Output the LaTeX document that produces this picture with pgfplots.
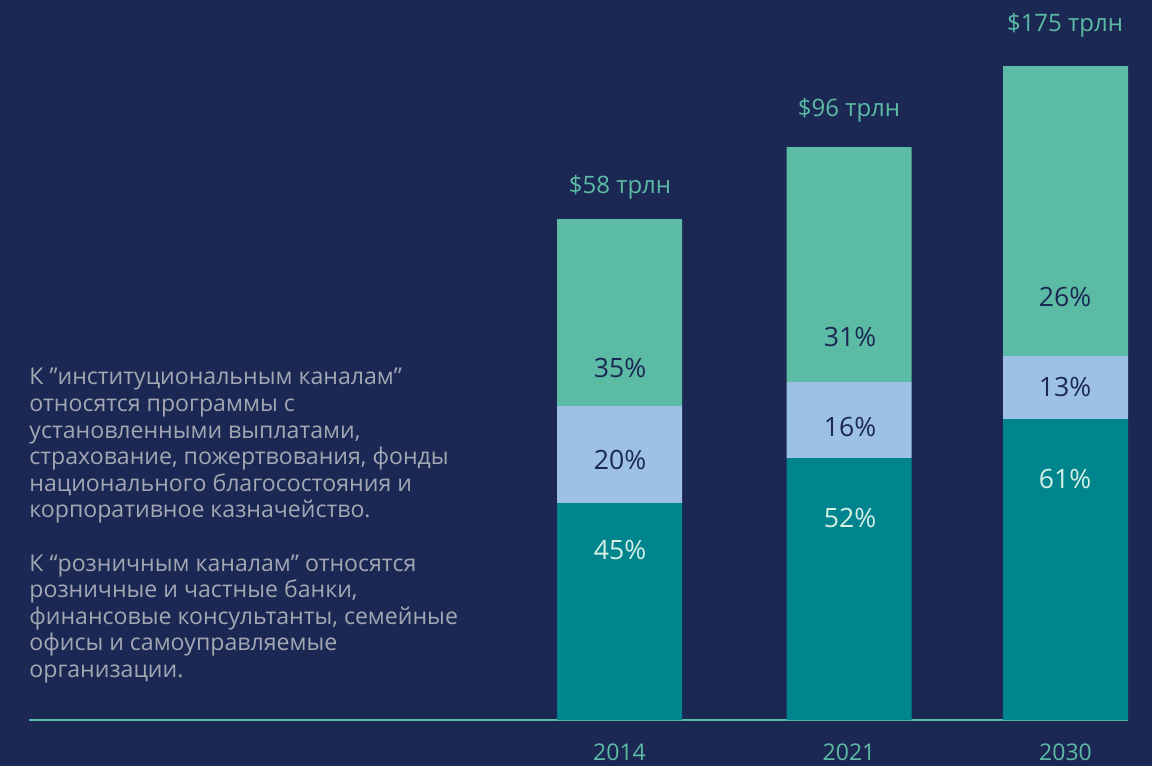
\documentclass[border=0pt]{standalone}
\usepackage{fontspec}
\setmainfont{Open Sans}
\usepackage{pgfplots}
\pgfplotsset{compat=1.18}

\definecolor{navy}{HTML}{1B2853}
\definecolor{tealbar}{HTML}{00858F}
\definecolor{skybar}{HTML}{9DC1E4}
\definecolor{mintbar}{HTML}{5CBBA5}
\definecolor{mintlbl}{HTML}{D6F0E4}
\definecolor{greytxt}{HTML}{A3A7B3}

\begin{document}
\begin{tikzpicture}
% 1 px of the reference = 0.5pt
\fill[navy] (0,0) rectangle (576pt,383pt);
\begin{axis}[
    at={(14.5pt,23pt)}, anchor=south west,
    x=0.5pt, y=0.5pt,
    xmin=29, xmax=1128, ymin=0, ymax=720,
    enlargelimits=false,
    clip=false,
    ybar stacked,
    bar width=125,
    axis x line=bottom,
    axis y line=none,
    axis line style={mintbar, line width=0.9pt, -},
    xtick={619.5,849,1065.5},
    xticklabels={2014,2021,2030},
    major tick length=0pt,
    xticklabel style={font=\fontsize{11.5}{12}\selectfont, text=mintbar, anchor=center, yshift=-16pt},
    ytick=\empty,
]
% segment heights (px)
\addplot[fill=tealbar, draw=none] coordinates {(619.5,217) (849,262) (1065.5,301)};
\addplot[fill=skybar, draw=none] coordinates {(619.5,97) (849,76) (1065.5,63)};
\addplot[fill=mintbar, draw=none] coordinates {(619.5,187) (849,235) (1065.5,290)};

% label anchors
\coordinate (a1) at (axis cs:620,170);
\coordinate (a2) at (axis cs:620,260);
\coordinate (a3) at (axis cs:620,352);
\coordinate (b1) at (axis cs:850,202);
\coordinate (b2) at (axis cs:850,293);
\coordinate (b3) at (axis cs:850,383);
\coordinate (c1) at (axis cs:1065,241);
\coordinate (c2) at (axis cs:1065,333);
\coordinate (c3) at (axis cs:1065,423);
\coordinate (ta) at (axis cs:620,533);
\coordinate (tb) at (axis cs:849,610);
\coordinate (tc) at (axis cs:1065,695);
\coordinate (note) at (axis cs:29,352);
\end{axis}

\tikzset{pct/.style={font=\fontsize{13.3}{13.3}\selectfont},
         tot/.style={font=\fontsize{12}{12}\selectfont, text=mintbar}}
\node[pct, text=mintlbl] at (a1) {45\%};
\node[pct, text=navy] at (a2) {20\%};
\node[pct, text=navy] at (a3) {35\%};
\node[pct, text=mintlbl] at (b1) {52\%};
\node[pct, text=navy] at (b2) {16\%};
\node[pct, text=navy] at (b3) {31\%};
\node[pct, text=mintlbl] at (c1) {61\%};
\node[pct, text=navy] at (c2) {13\%};
\node[pct, text=navy] at (c3) {26\%};

\node[tot] at (ta) {\$58 трлн};
\node[tot] at (tb) {\$96 трлн};
\node[tot] at (tc) {\$175 трлн};

\node[anchor=north west, inner sep=0pt, text=greytxt, align=left,
      font=\fontsize{11.55}{13.3}\selectfont] at (note)
{К ”институциональным каналам”\\
относятся программы с\\
установленными выплатами,\\
страхование, пожертвования, фонды\\
национального благосостояния и\\
корпоративное казначейство.\\[13.3pt]
К “розничным каналам” относятся\\
розничные и частные банки,\\
финансовые консультанты, семейные\\
офисы и самоуправляемые\\
организации.};
\end{tikzpicture}
\end{document}
